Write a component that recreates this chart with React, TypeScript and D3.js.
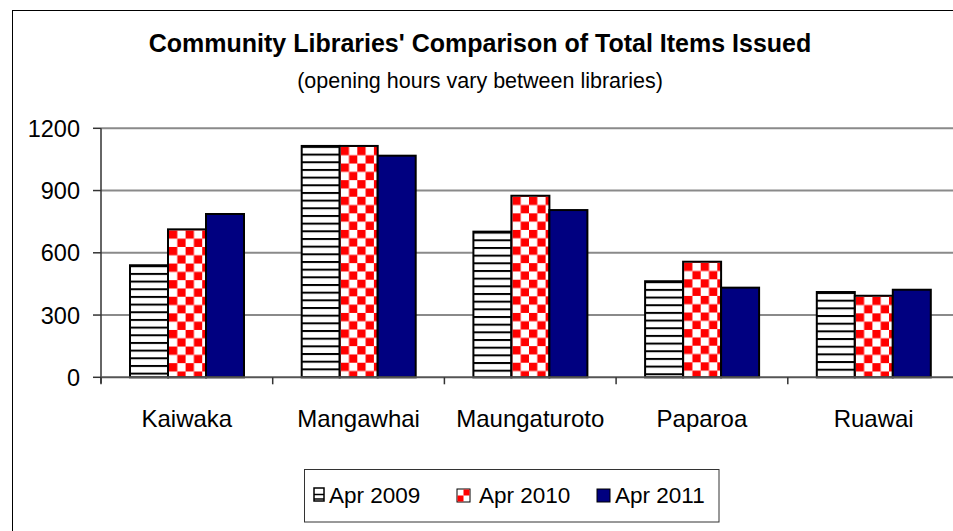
import React from "react";
import * as d3 from "d3";

const categories = ["Kaiwaka", "Mangawhai", "Maungaturoto", "Paparoa", "Ruawai"];
const seriesNames = ["Apr 2009", "Apr 2010", "Apr 2011"];
const apr2009 = [540, 1115, 702, 463, 411];
const apr2010 = [713, 1115, 875, 557, 393];
const apr2011 = [787, 1068, 806, 432, 422];
const yTicks = [0, 300, 600, 900, 1200];

const W = 953;
const H = 531;
const FONT = "'Liberation Sans', Arial, Helvetica, sans-serif";

export default function App() {
  const series = [apr2009, apr2010, apr2011];
  const plotLeft = 101;
  const catW = 171.7;
  const x = d3
    .scaleBand<string>()
    .domain(categories)
    .range([plotLeft, plotLeft + catW * categories.length])
    .paddingInner(0)
    .paddingOuter(0);
  const xs = d3
    .scaleBand<string>()
    .domain(seriesNames)
    .range([29, 29 + 38 * 3])
    .padding(0);
  const y = d3.scaleLinear().domain([0, 1200]).range([377.3, 128.3]);
  const plotRight = plotLeft + catW * categories.length;
  const base = y(0);

  const bars: any[] = [];
  series.forEach((vals, si) => {
    vals.forEach((v, ci) => {
      const bx = (x(categories[ci]) as number) + (xs(seriesNames[si]) as number);
      const by = y(v);
      bars.push({ si, ci, bx, by, bw: xs.bandwidth(), bh: base - by, key: `${si}-${ci}` });
    });
  });

  const legendItems = [
    { sx: 314, tx: 329 },
    { sx: 457, tx: 479 },
    { sx: 597, tx: 615 },
  ];

  return (
    <svg
      width={W}
      height={H}
      style={{ position: "absolute", left: 0, top: 0, background: "#fff" }}
      fontFamily={FONT}
    >
      <defs>
        {bars.map((b) =>
          b.si === 0 ? (
            <pattern
              key={"p" + b.key}
              id={"pat" + b.key}
              patternUnits="userSpaceOnUse"
              x={b.bx}
              y={b.by}
              width={8}
              height={7.67}
            >
              <rect width={8} height={7.67} fill="#fff" />
              <rect y={0} width={8} height={2} fill="#000" />
            </pattern>
          ) : b.si === 1 ? (
            <pattern
              key={"p" + b.key}
              id={"pat" + b.key}
              patternUnits="userSpaceOnUse"
              x={b.bx + 1}
              y={b.by + 1}
              width={16.6}
              height={16.6}
            >
              <rect width={16.6} height={16.6} fill="#fff" />
              <rect x={0} y={0} width={8.3} height={8.3} fill="#ff0000" />
              <rect x={8.3} y={8.3} width={8.3} height={8.3} fill="#ff0000" />
            </pattern>
          ) : null
        )}
      </defs>

      <rect x={0} y={0} width={W} height={H} fill="#fff" />
      {/* outer chart border */}
      <rect x={12.5} y={10.5} width={W + 20} height={H + 20} fill="none" stroke="#000" strokeWidth={1} />

      {/* title */}
      <text x={480} y={52} textAnchor="middle" fontSize={25} fontWeight="bold" fill="#000">
        Community Libraries' Comparison of Total Items Issued
      </text>
      <text x={480} y={88} textAnchor="middle" fontSize={21.5} fill="#000">
        (opening hours vary between libraries)
      </text>

      {/* gridlines */}
      {yTicks
        .filter((t) => t > 0)
        .map((t) => (
          <line key={"g" + t} x1={plotLeft} x2={plotRight} y1={y(t)} y2={y(t)} stroke="#8a8a8a" strokeWidth={2} />
        ))}

      {/* bars */}
      {bars.map((b) => (
        <rect
          key={b.key}
          x={b.bx}
          y={b.by}
          width={b.bw}
          height={b.bh}
          fill={b.si === 2 ? "#000080" : `url(#pat${b.key})`}
          stroke="#000"
          strokeWidth={2}
        />
      ))}

      {/* y axis */}
      <line x1={plotLeft} x2={plotLeft} y1={y(1200)} y2={base + 6} stroke="#333" strokeWidth={1.5} />
      {yTicks.map((t) => (
        <g key={"yt" + t}>
          <line x1={plotLeft - 8} x2={plotLeft} y1={y(t)} y2={y(t)} stroke="#333" strokeWidth={1.5} />
          <text x={80} y={y(t)} dy="0.36em" textAnchor="end" fontSize={23.5} fill="#000">
            {t}
          </text>
        </g>
      ))}

      {/* x axis */}
      <line x1={plotLeft} x2={plotRight} y1={base} y2={base} stroke="#555" strokeWidth={2} />
      {categories.map((c) => (
        <line
          key={"xt" + c}
          x1={x(c) as number}
          x2={x(c) as number}
          y1={base}
          y2={base + 7}
          stroke="#333"
          strokeWidth={1.5}
        />
      ))}
      {categories.map((c) => (
        <text
          key={"xl" + c}
          x={(x(c) as number) + x.bandwidth() / 2}
          y={427}
          textAnchor="middle"
          fontSize={24}
          fill="#000"
        >
          {c}
        </text>
      ))}

      {/* legend */}
      <rect x={304.5} y={469.5} width={414.5} height={52.5} fill="#fff" stroke="#333" strokeWidth={1} />
      {seriesNames.map((s, i) => {
        const it = legendItems[i];
        return (
          <g key={"leg" + s}>
            {i === 0 ? (
              <g>
                <rect x={it.sx} y={488} width={10} height={13} fill="#fff" stroke="#000" strokeWidth={1.5} />
                <line x1={it.sx} x2={it.sx + 10} y1={494.5} y2={494.5} stroke="#000" strokeWidth={1.5} />
                <line x1={it.sx} x2={it.sx + 10} y1={499} y2={499} stroke="#000" strokeWidth={1.5} />
              </g>
            ) : i === 1 ? (
              <g>
                <rect x={it.sx} y={489} width={13} height={13} fill="#fff" stroke="#000" strokeWidth={1} />
                <rect x={it.sx + 6.5} y={489.5} width={6} height={6} fill="#ff0000" />
                <rect x={it.sx + 0.5} y={495.5} width={6} height={6} fill="#ff0000" />
              </g>
            ) : (
              <rect x={it.sx} y={489} width={13} height={13} fill="#000080" stroke="#000" strokeWidth={1} />
            )}
            <text x={it.tx} y={503} fontSize={22.5} fill="#000">
              {s}
            </text>
          </g>
        );
      })}
    </svg>
  );
}
